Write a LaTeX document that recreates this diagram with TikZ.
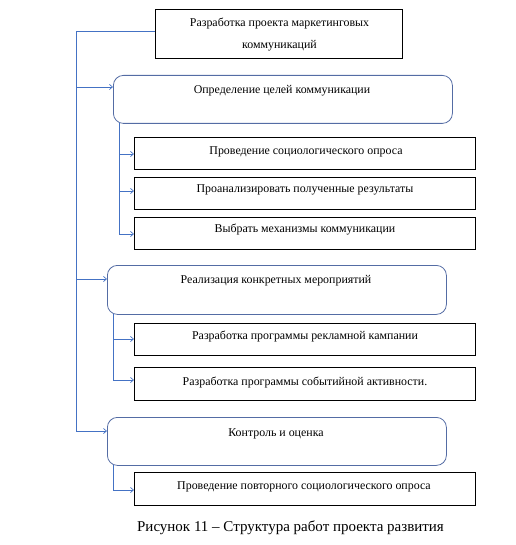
\documentclass[tikz,border=0pt]{standalone}
\usepackage{fontspec}
\setmainfont{Liberation Serif}
\usetikzlibrary{arrows.meta}
\definecolor{lineblue}{RGB}{68,114,196}
\definecolor{boxblue}{RGB}{84,108,164}
\begin{document}
\begin{tikzpicture}[x=1pt,y=-1pt,
  sqbox/.style={draw=black, line width=0.8pt, minimum width=#1, inner sep=0pt, anchor=north west},
  rbox/.style={draw=boxblue, line width=0.8pt, rounded corners=10pt, inner sep=0pt, anchor=north west},
  conn/.style={draw=lineblue, line width=0.7pt, -{Straight Barb[length=3pt,width=5pt]}},
  plain/.style={draw=lineblue, line width=0.7pt},
  txt/.style={font=\fontsize{11.9pt}{13pt}\selectfont, inner sep=0pt, yshift=-1.5pt}]
\useasboundingbox (0,0) rectangle (515,545);
% top box
\node[draw=black, line width=0.8pt, anchor=north west, minimum width=247pt, minimum height=49pt, inner sep=0pt] (top) at (155,9) {};
\node[txt, align=center, font=\fontsize{11.9pt}{22pt}\selectfont] (toptxt) at (279.5,33.5) {Разработка проекта маркетинговых\\коммуникаций};
% level 1 boxes
\node[rbox, minimum width=339pt, minimum height=48pt] (b1) at (113,75) {};
\node[txt] (b1t) at (282,89) {Определение целей коммуникации};
\node[rbox, minimum width=339pt, minimum height=49pt] (b2) at (107,265) {};
\node[txt] (b2t) at (276,279) {Реализация конкретных мероприятий};
\node[rbox, minimum width=339pt, minimum height=48pt] (b3) at (107,417) {};
\node[txt] (b3t) at (276,432) {Контроль и оценка};
% sub boxes
\node[sqbox=341pt, minimum height=32pt] (s1) at (134,137) {};
\node[txt] (s1t) at (306,150) {Проведение социологического опроса};
\node[sqbox=341pt, minimum height=32pt] (s2) at (134,177) {};
\node[txt] (s2t) at (305,188) {Проанализировать полученные результаты};
\node[sqbox=341pt, minimum height=32pt] (s3) at (134,217) {};
\node[txt] (s3t) at (305,228) {Выбрать механизмы коммуникации};
\node[sqbox=341pt, minimum height=32pt] (s4) at (134,323) {};
\node[txt] (s4t) at (305,335) {Разработка программы рекламной кампании};
\node[sqbox=341pt, minimum height=33pt] (s5) at (134,367) {};
\node[txt] (s5t) at (305,381) {Разработка программы событийной активности.};
\node[sqbox=341pt, minimum height=33pt] (s6) at (134,472) {};
\node[txt] (s6t) at (304,485) {Проведение повторного социологического опроса};
% caption
\node[font=\fontsize{15pt}{17pt}\selectfont, inner sep=0pt] (cap) at (290.5,528) {Рисунок 11 – Структура работ проекта развития};
% main spine
\coordinate (m0) at (76,31);
\coordinate (m1) at (76,87);
\coordinate (m2) at (76,279);
\coordinate (m3) at (76,431);
\draw[plain] (top.west |- m0) -- (m0) -- (m3);
\draw[conn] (m1) -- (b1.west |- m1);
\draw[conn] (m2) -- (b2.west |- m2);
\draw[conn] (m3) -- (b3.west |- m3);
% sub spine 1
\coordinate (a0) at (119,123);
\coordinate (a1) at (119,154);
\coordinate (a2) at (119,191);
\coordinate (a3) at (119,234);
\draw[plain] (a0) -- (a3);
\draw[conn] (a1) -- (s1.west |- a1);
\draw[conn] (a2) -- (s2.west |- a2);
\draw[conn] (a3) -- (s3.west |- a3);
% sub spine 2
\coordinate (c0) at (113,314);
\coordinate (c1) at (113,339);
\coordinate (c2) at (113,380);
\draw[plain] (c0) -- (c2);
\draw[conn] (c1) -- (s4.west |- c1);
\draw[conn] (c2) -- (s5.west |- c2);
% sub spine 3
\coordinate (d0) at (113,465);
\coordinate (d1) at (113,490);
\draw[plain] (d0) -- (d1);
\draw[conn] (d1) -- (s6.west |- d1);
\end{tikzpicture}
\end{document}
